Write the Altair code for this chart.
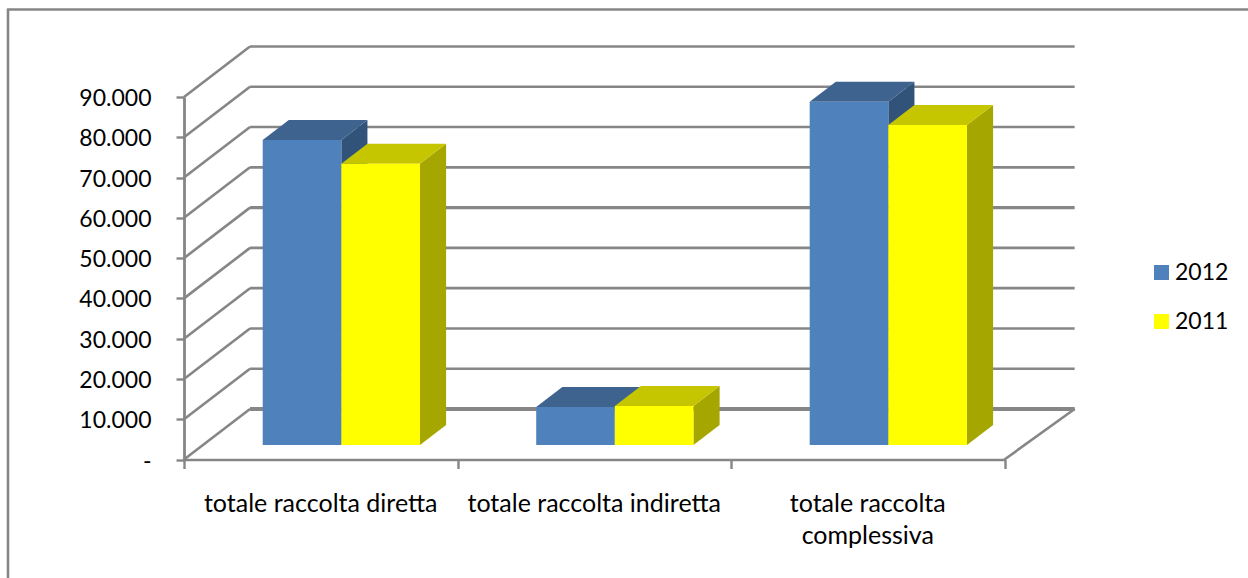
import altair as alt
import pandas as pd

CATEGORIES = ["totale raccolta diretta", "totale raccolta indiretta", "totale raccolta\ncomplessiva"]
YEARS = ["2012", "2011"]
VALUES_2012 = [75700, 9430, 85200]
VALUES_2011 = [69850, 9680, 79450]
Y_TICKS = [0, 10000, 20000, 30000, 40000, 50000, 60000, 70000, 80000, 90000]

FRONT = {"2012": "#4F81BD", "2011": "#FFFF00"}
TOP = {"2012": "#3E638F", "2011": "#C6C600"}
SIDE = {"2012": "#325379", "2011": "#A6A600"}
GRID = "#868686"
FONT = "Lato"

# Oblique projection: how far the back wall is shifted, in axis units.
WALL_DX = 0.2413
WALL_DX_RIGHT = 0.2565   # the far right corner sits slightly further out
WALL_DY = 12540
# Bars occupy this slice of the floor's depth.
NEAR, FAR = 0.287, 0.683
GAP = 0.2185      # empty part of a category before its two bars
BAR_W = 0.2875


def bar_rows(values, slot):
    rows = []
    for i, v in enumerate(values):
        x0 = i + GAP + slot * BAR_W + NEAR * WALL_DX
        x1 = x0 + BAR_W
        base = NEAR * WALL_DY
        rows.append(dict(x0=x0, x1=x1, y0=base, y1=base + v,
                         dx=(FAR - NEAR) * WALL_DX, dy=(FAR - NEAR) * WALL_DY, bar=i))
    return rows


x_scale = alt.Scale(domain=[0, 3], nice=False, zero=False)
y_scale = alt.Scale(domain=[0, 90000], nice=False, zero=False)
X = lambda f: alt.X(f, type="quantitative", scale=x_scale, title=None)
Y = lambda f: alt.Y(f, type="quantitative", scale=y_scale, title=None)

# Walls and floor
wall_rows = []
for t in Y_TICKS:
    weight = 4 if t == 0 else (3.4 if t == 50000 else 2.6)
    wall_rows.append(dict(x=0, x2=WALL_DX, y=t, y2=t + WALL_DY, w=2.6))
    wall_rows.append(dict(x=WALL_DX, x2=3 + WALL_DX_RIGHT, y=t + WALL_DY, y2=t + WALL_DY, w=weight))
wall_rows.append(dict(x=3, x2=3 + WALL_DX_RIGHT, y=0, y2=WALL_DY, w=2.6))
walls = alt.Chart(pd.DataFrame(wall_rows)).mark_rule(color=GRID).encode(
    x=X("x"), x2="x2", y=Y("y"), y2="y2",
    strokeWidth=alt.StrokeWidth("w:Q", scale=None, legend=None),
)

# Axes: the value axis plus the floor's front edge with its category ticks
axes = alt.Chart(pd.DataFrame({"x": [0.0], "y": [0.0]})).mark_point(opacity=0).encode(
    x=alt.X("x:Q", scale=x_scale, title=None, axis=alt.Axis(
        values=[0, 1, 2, 3], labels=False, grid=False, tickSize=9, tickWidth=2.4,
        tickColor=GRID, domainColor=GRID, domainWidth=2.6)),
    y=alt.Y("y:Q", scale=y_scale, title=None, axis=alt.Axis(
        values=Y_TICKS, grid=False, tickSize=8, tickWidth=2.4, tickColor=GRID,
        domainColor=GRID, domainWidth=2.8, labelPadding=25, labelFont=FONT,
        labelFontSize=23, labelColor="#000000", labelOffset=1.5,
        labelExpr="datum.value == 0 ? '-\u00a0\u00a0\u00a0\u00a0' : replace(format(datum.value, ','), ',', '.')")),
)


def bar_layers(year, values, slot):
    rows = bar_rows(values, slot)
    side_rows, top_rows = [], []
    for r in rows:
        side_rows += [dict(x=r["x1"], y=r["y0"], y2=r["y1"], bar=r["bar"]),
                      dict(x=r["x1"] + r["dx"], y=r["y0"] + r["dy"], y2=r["y1"] + r["dy"], bar=r["bar"])]
        top_rows += [dict(y=r["y1"], x=r["x0"], x2=r["x1"], bar=r["bar"]),
                     dict(y=r["y1"] + r["dy"], x=r["x0"] + r["dx"], x2=r["x1"] + r["dx"], bar=r["bar"])]
    side = alt.Chart(pd.DataFrame(side_rows)).mark_area(color=SIDE[year], orient="vertical").encode(
        x=X("x"), y=Y("y"), y2="y2", detail="bar:N")
    top = alt.Chart(pd.DataFrame(top_rows)).mark_area(color=TOP[year], orient="horizontal").encode(
        y=Y("y"), x=X("x"), x2="x2", detail="bar:N")
    front_df = pd.DataFrame(rows).assign(year=year)
    front = alt.Chart(front_df).mark_rect().encode(
        x=X("x0"), x2="x1", y=Y("y0"), y2="y1",
        color=alt.Color("year:N", title=None,
                        scale=alt.Scale(domain=YEARS, range=[FRONT[y] for y in YEARS]),
                        legend=alt.Legend(orient="none", legendX=966, legendY=164,
                                          symbolType="square", symbolSize=225,
                                          symbolStrokeWidth=0, labelFont=FONT, labelFontSize=23,
                                          labelColor="#000000", rowPadding=25, labelOffset=2)),
    )
    return [side, top, front]


# Category captions under the floor
captions = alt.Chart(pd.DataFrame({"x": [0.5, 1.5, 2.5], "label": CATEGORIES})).mark_text(
    font=FONT, fontSize=25, color="#000000", lineBreak="\n", lineHeight=32, baseline="top",
).encode(x=X("x"), y=alt.value(395), text="label:N")

# Frame of the chart area: left and top edges
frame_left = alt.Chart(pd.DataFrame({"a": [0]})).mark_rule(color=GRID, strokeWidth=2.6).encode(
    x=alt.value(-176), y=alt.value(-88), y2=alt.value(482))
frame_top = alt.Chart(pd.DataFrame({"a": [0]})).mark_rule(color=GRID, strokeWidth=2.6).encode(
    x=alt.value(-177), x2=alt.value(1066), y=alt.value(-87.5))

chart = alt.layer(
    frame_left, frame_top, walls, axes,
    *bar_layers("2012", VALUES_2012, 0),
    *bar_layers("2011", VALUES_2011, 1),
    captions,
).resolve_scale(color="shared").properties(
    width=820.5, height=362.5,
    autosize=alt.AutoSizeParams(type="none"),
    padding={"left": 184, "top": 97, "right": 243.5, "bottom": 118.5},
    background="#FFFFFF",
).configure_view(stroke=None)

chart.save("out.html", embed_options={"renderer": "svg", "actions": False})
